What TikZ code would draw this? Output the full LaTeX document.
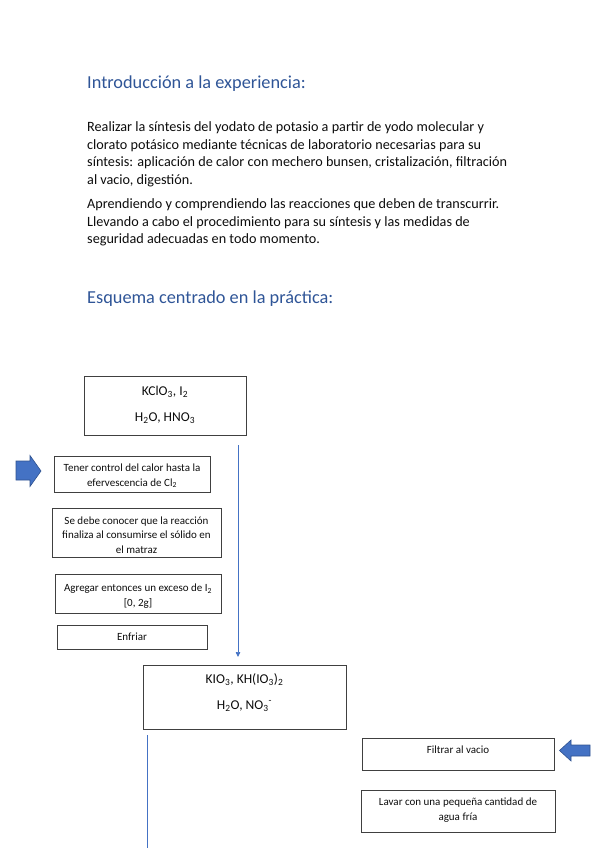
\documentclass[tikz,border=0pt]{standalone}
\usepackage{fontspec}
\setmainfont{Carlito}
\usetikzlibrary{arrows.meta}
\definecolor{headblue}{HTML}{2F5597}
\definecolor{flowblue}{HTML}{4472C4}
\definecolor{arrowedge}{HTML}{2F528F}
\definecolor{boxline}{HTML}{404040}
\definecolor{txt}{HTML}{0D0D0D}
\tikzset{
  heading/.style={anchor=base west, inner sep=0pt, text=headblue, font=\fontsize{18.3}{22}\selectfont},
  body/.style={anchor=base west, inner sep=0pt, text=txt, align=left, font=\fontsize{14.2}{17.5}\selectfont},
  box/.style={draw=boxline, line width=0.8pt, anchor=north west, inner sep=0pt},
  bigtxt/.style={anchor=base, inner sep=0pt, text=txt, font=\fontsize{13.5}{16}\selectfont},
  smalltxt/.style={anchor=base, inner sep=0pt, text=txt, align=center, font=\fontsize{11}{14.5}\selectfont},
  flow/.style={draw=flowblue, line width=0.7pt},
  blockarrow/.style={fill=flowblue, draw=arrowedge, line width=0.6pt, line join=miter}
}
\begin{document}
\begin{tikzpicture}[x=1pt,y=-1pt]
\useasboundingbox (0,0) rectangle (599,848);
% headings and paragraphs (multi-line nodes are placed by their last baseline)
\node[heading] (h1) at (87,89) {Introducción a la experiencia:};
\node[body] (p1) at (87,184) {Realizar la síntesis del yodato de potasio a partir de yodo molecular y\\
clorato potásico mediante técnicas de laboratorio necesarias para su\\
síntesis: aplicación de calor con mechero bunsen, cristalización, filtración\\
al vacio, digestión.};
\node[body] (p2) at (87,243.5) {Aprendiendo y comprendiendo las reacciones que deben de transcurrir.\\
Llevando a cabo el procedimiento para su síntesis y las medidas de\\
seguridad adecuadas en todo momento.};
\node[heading] (h2) at (87,303) {Esquema centrado en la práctica:};
% box 1
\node[box, minimum width=162pt, minimum height=59pt] (b1) at (84,376) {};
\node[bigtxt] (t1a) at (165,395) {KClO\textsubscript{3}, I\textsubscript{2}};
\node[bigtxt] (t1b) at (165,421) {H\textsubscript{2}O, HNO\textsubscript{3}};
% side boxes
\node[box, minimum width=156pt, minimum height=36pt] (b2) at (54,456) {};
\node[smalltxt] (t2) at (132,486) {Tener control del calor hasta la\\efervescencia de Cl\textsubscript{2}};
\node[box, minimum width=169pt, minimum height=49pt] (b3) at (52,508) {};
\node[smalltxt] (t3) at (136.5,553) {Se debe conocer que la reacción\\finaliza al consumirse el sólido en\\el matraz};
\node[box, minimum width=166pt, minimum height=39pt] (b4) at (55,574) {};
\node[smalltxt] (t4) at (138,606) {Agregar entonces un exceso de I\textsubscript{2}\\{}[0, 2g]};
\node[box, minimum width=150pt, minimum height=24pt] (b5) at (57,625) {};
\node[smalltxt] (t5) at (132,640) {Enfriar};
% flow line 1
\coordinate (f1s) at (238,445);
\coordinate (f1e) at (238,657);
\draw[flow, -{Triangle[length=5pt,width=4.5pt]}] (f1s) -- (f1e);
% box 6
\node[box, minimum width=203pt, minimum height=64pt] (b6) at (143,665) {};
\node[bigtxt] (t6a) at (244.5,683) {KIO\textsubscript{3}, KH(IO\textsubscript{3})\textsubscript{2}};
\node[bigtxt] (t6b) at (244.5,709) {H\textsubscript{2}O, NO\textsubscript{3}\textsuperscript{-}};
% flow line 2
\coordinate (f2s) at (147,735);
\coordinate (f2e) at (147,848);
\draw[flow] (f2s) -- (f2e);
% right boxes
\node[box, minimum width=192pt, minimum height=32pt] (b7) at (362,738) {};
\node[smalltxt] (t7) at (458,753) {Filtrar al vacio};
\node[box, minimum width=194pt, minimum height=42pt] (b8) at (361,790) {};
\node[smalltxt] (t8) at (458,820) {Lavar con una pequeña cantidad de\\agua fría};
% block arrows
\path[blockarrow] (16,461) -- (30,461) -- (30,455.5) -- (41,471) -- (30,486.5) -- (30,480) -- (16,480) -- cycle;
\path[blockarrow] (590,745) -- (571,745) -- (571,740) -- (559.5,750.5) -- (571,761) -- (571,756) -- (590,756) -- cycle;
\end{tikzpicture}
\end{document}
